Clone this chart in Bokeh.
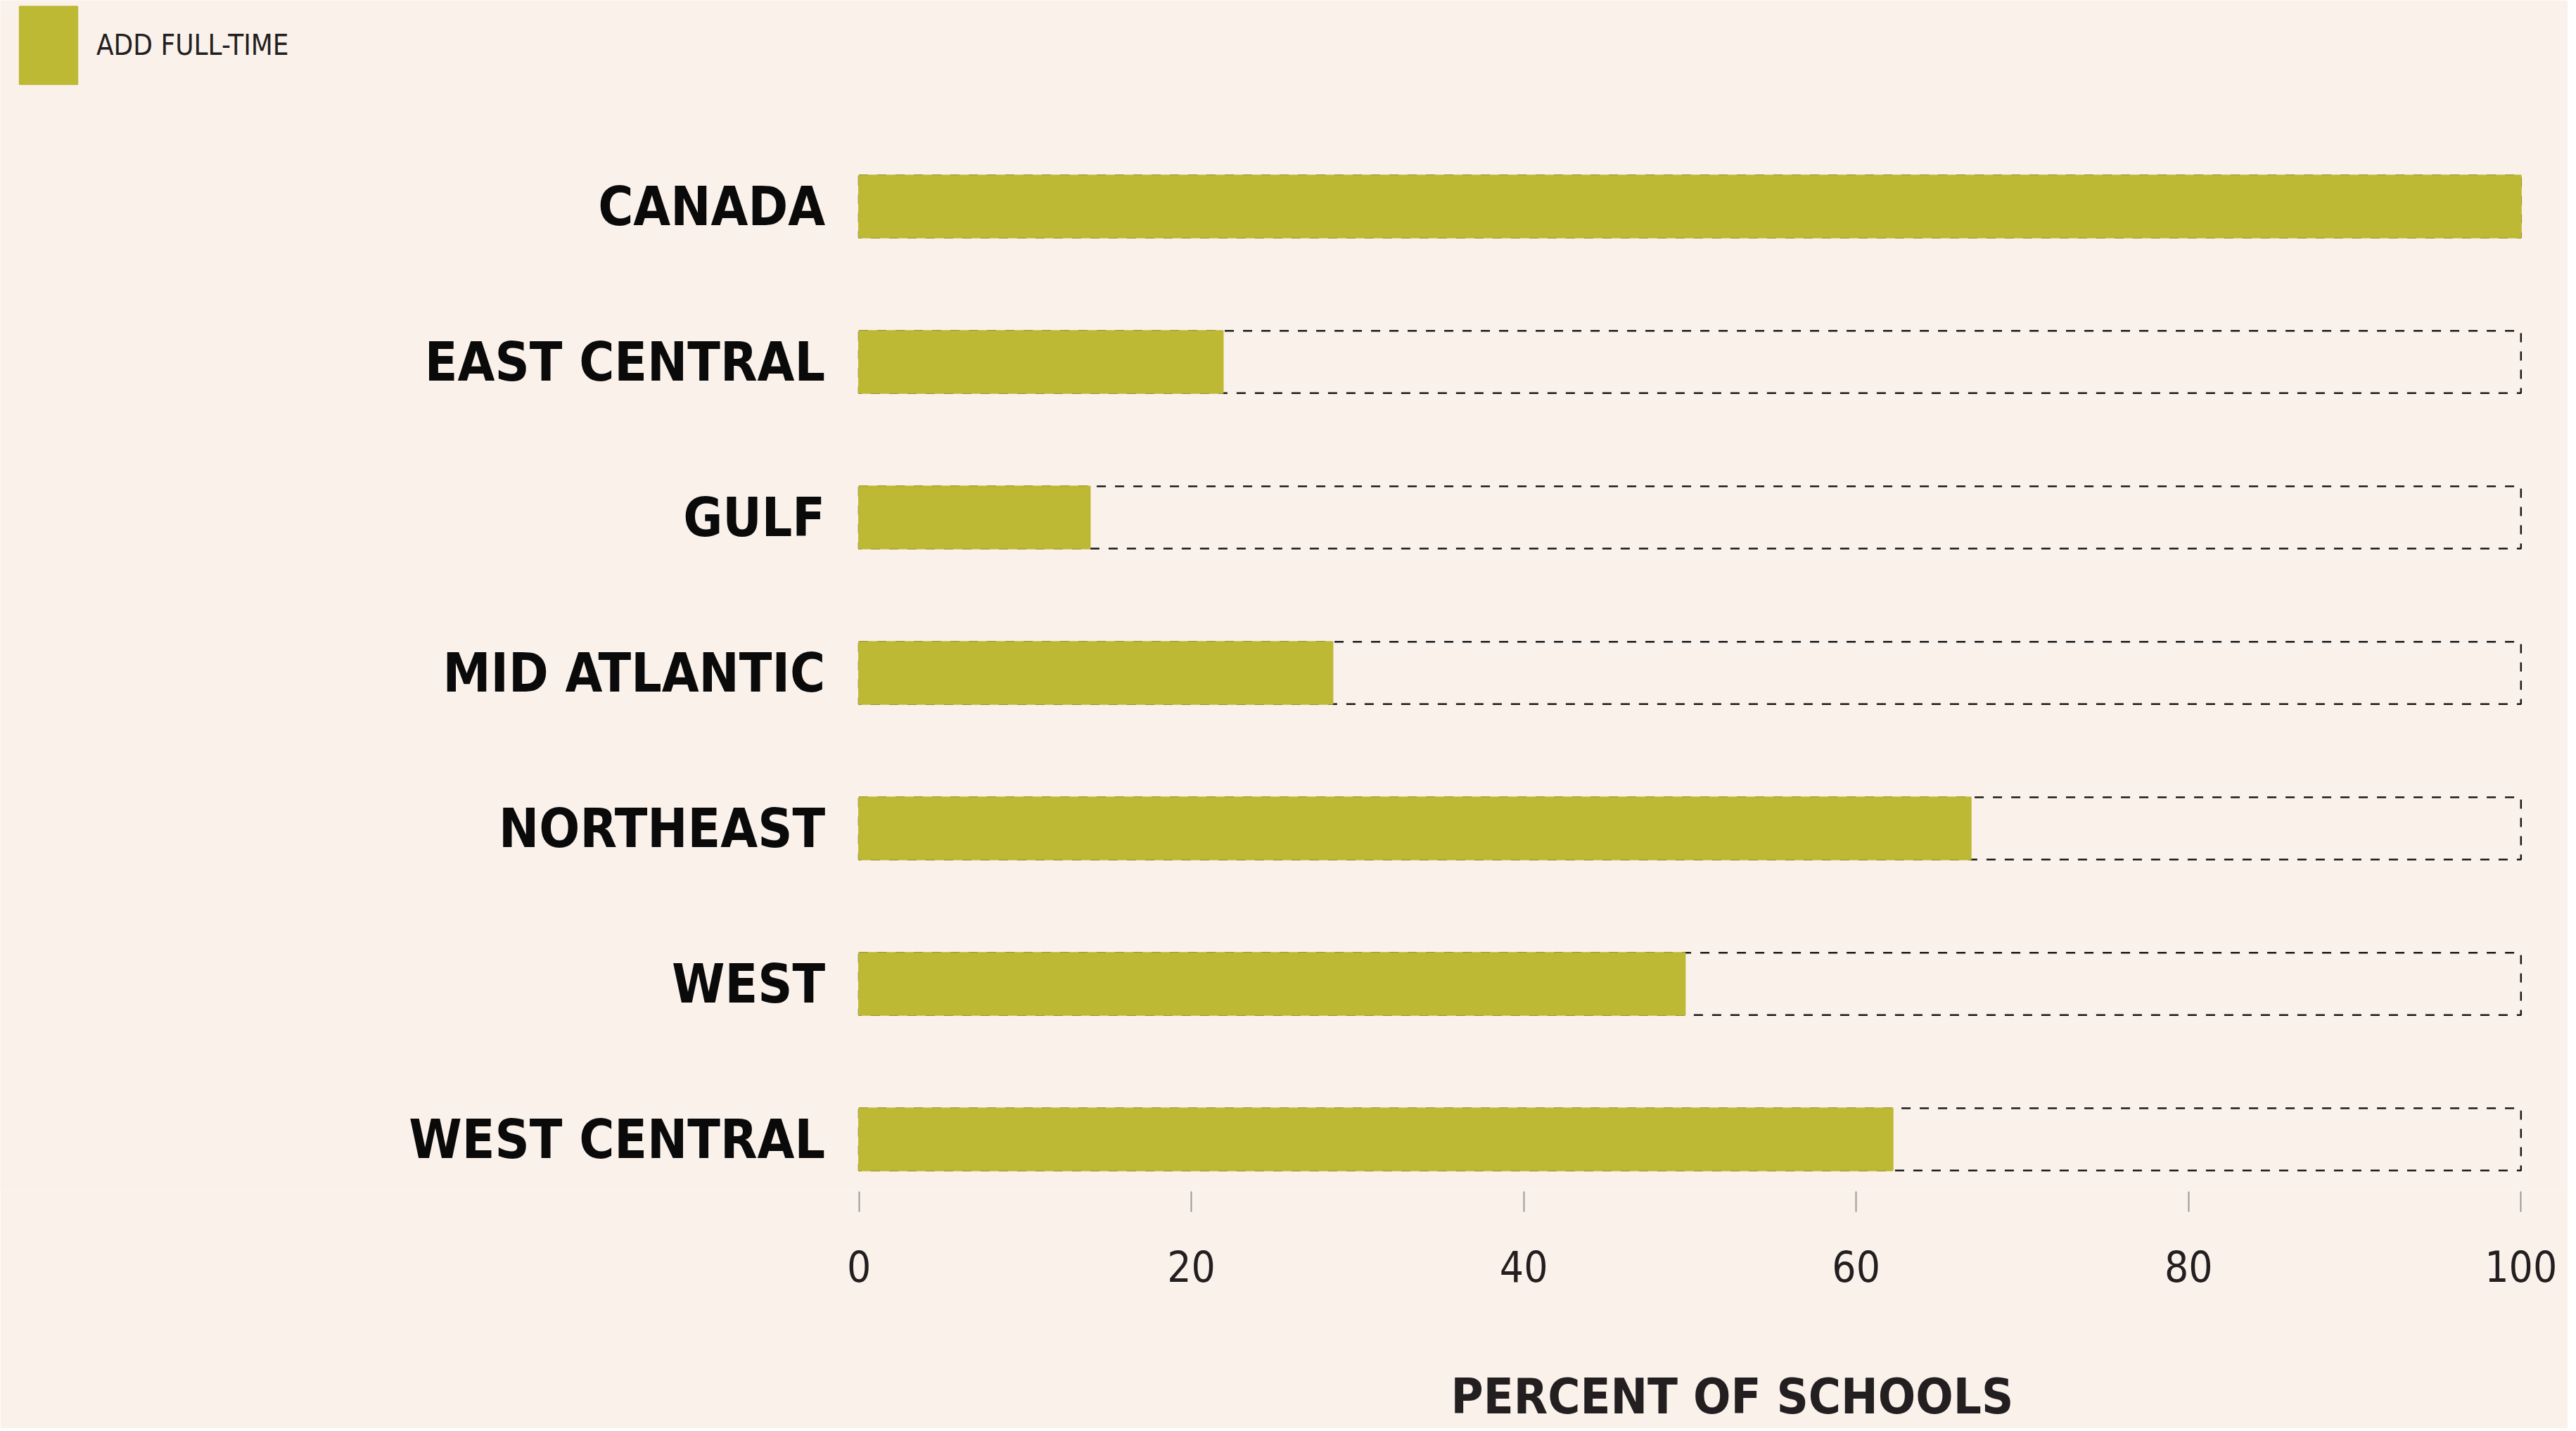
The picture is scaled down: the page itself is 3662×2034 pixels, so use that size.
from bokeh.plotting import figure
from bokeh.models import Range1d, FixedTicker, Legend, LegendItem, ColumnDataSource, Title
from bokeh.core.properties import value
from bokeh.embed import file_html
from bokeh.resources import INLINE

# ---- data ----
categories = ["CANADA", "EAST CENTRAL", "GULF", "MID ATLANTIC", "NORTHEAST", "WEST", "WEST CENTRAL"]
add_full_time = [100, 21.9, 13.9, 28.5, 66.9, 49.7, 62.2]
total = [100, 100, 100, 100, 100, 100, 100]
x_ticks = [0, 20, 40, 60, 80, 100]
legend_label = "ADD FULL-TIME"
axis_title = "PERCENT OF SCHOOLS"

# ---- styling ----
BG = "#FAF1EB"
BAR = "#BDB934"
TXT = "#231F20"
FONT = "DejaVu Sans Condensed"

n = len(categories)
ypos = [n - 1 - i for i in range(n)]
src = ColumnDataSource(dict(y=ypos, v=add_full_time, t=total, cat=categories))

p = figure(width=3650, height=2030, output_backend="svg", toolbar_location=None,
           x_range=Range1d(-51.66, 102.40), y_range=Range1d(-0.335, 7.326),
           min_border_left=0, min_border_right=10, min_border_top=0,
           min_border_bottom=337, background_fill_color=BG, border_fill_color=BG,
           outline_line_color=None)
p.xgrid.visible = False
p.ygrid.visible = False
p.yaxis.visible = False

# dashed outline for the full 100%
p.hbar(y="y", left=0, right="t", height=0.4, source=src, fill_color=None,
       line_color="#1a1a1a", line_width=2.5, line_dash="13 13")
bars = p.hbar(y="y", left=0, right="v", height=0.4, source=src,
              fill_color=BAR, line_color=BAR, line_width=2)

# category labels
p.text(x=0, y="y", text="cat", source=src, x_offset=-48, text_align="right",
       text_baseline="middle", text_font=value(FONT), text_font_style="bold",
       text_font_size="76px", text_color="#0a0a0a")

# x axis
xa = p.xaxis[0]
xa.ticker = FixedTicker(ticks=x_ticks)
xa.axis_line_color = None
xa.major_tick_line_color = "#9a9a9a"
xa.major_tick_line_width = 2
xa.major_tick_in = 0
xa.major_tick_out = 29
xa.minor_tick_line_color = None
xa.major_label_standoff = 54
xa.major_label_text_font = FONT
xa.major_label_text_font_size = "60px"
xa.major_label_text_color = TXT
# empty spacer label to push the title below further down
xa.axis_label = " "
xa.axis_label_text_font_size = "10px"
xa.axis_label_standoff = 98

title = Title(text=axis_title, align="left", offset=2062, standoff=10,
              text_font=FONT, text_font_style="bold", text_font_size="70px",
              text_color=TXT)
p.add_layout(title, "below")

legend = Legend(items=[LegendItem(label=legend_label, renderers=[bars])],
                location=(17, 1560), glyph_width=103, glyph_height=138,
                label_text_font=FONT, label_text_font_size="40px",
                label_text_color=TXT, label_standoff=17, padding=0, margin=0,
                border_line_color=None, background_fill_alpha=0)
p.add_layout(legend)

open("out.html", "w").write(file_html(p, INLINE))
